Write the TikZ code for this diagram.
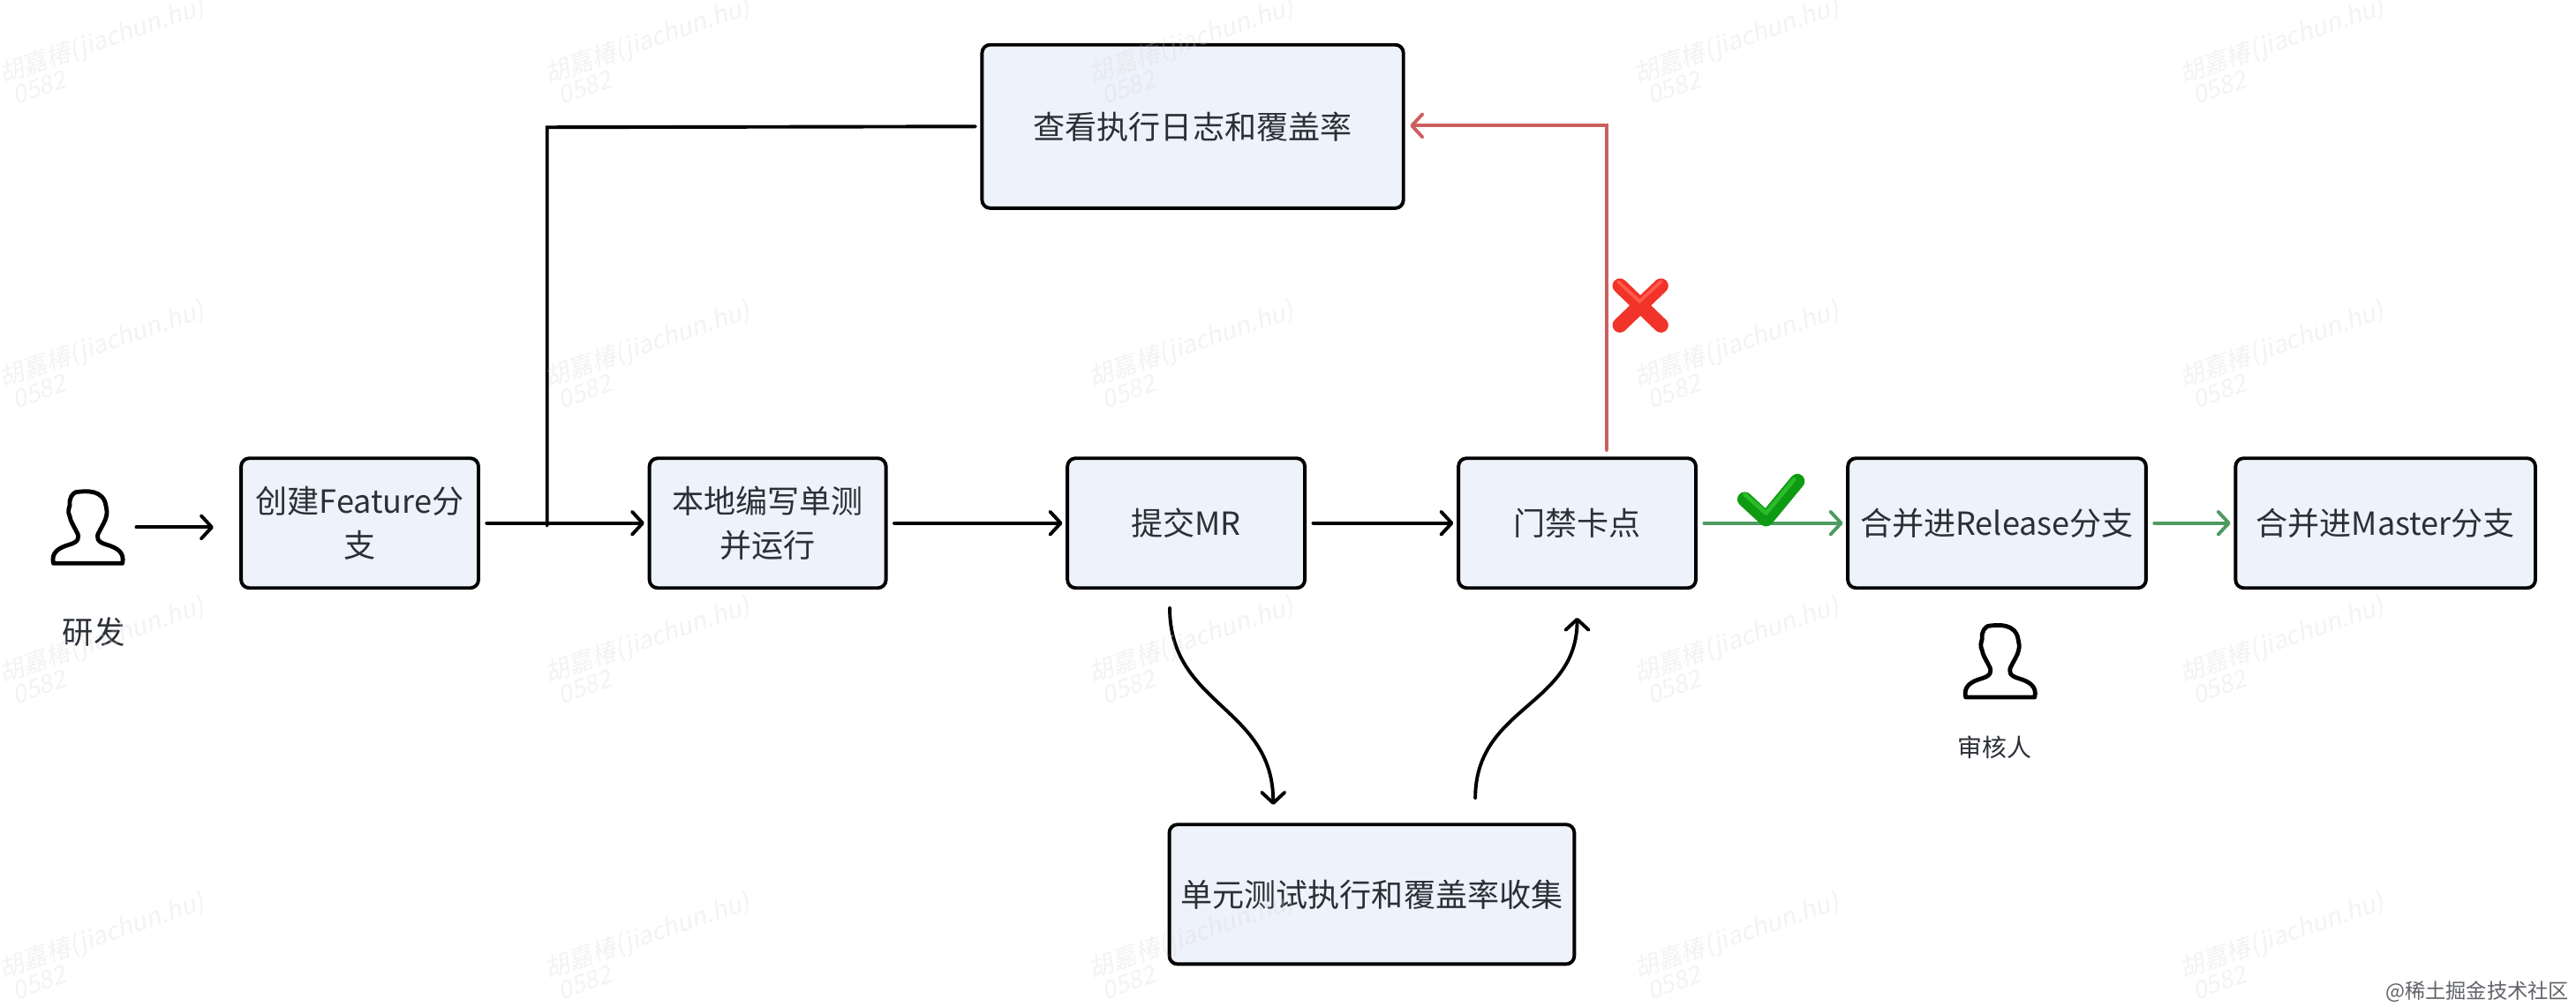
\documentclass[tikz,border=0pt]{standalone}
\usepackage{fontspec}
\setmainfont{Noto Sans CJK SC}
\usetikzlibrary{arrows.meta,shapes.misc}
\definecolor{boxfill}{HTML}{EEF2FA}
\definecolor{txt}{HTML}{2B2F36}
\definecolor{redline}{HTML}{CC5F60}
\definecolor{greenline}{HTML}{4F9A60}
\definecolor{xred}{HTML}{F2332A}
\definecolor{xredhi}{HTML}{FF5A4C}
\definecolor{chk}{HTML}{0E9A12}
\definecolor{chkhi}{HTML}{2CBB2A}
\definecolor{wm}{HTML}{D4D4D4}
\tikzset{
  x=1pt,y=-1pt,
  flowbox/.style={draw=black,fill=boxfill,line width=2.1pt,rounded corners=5pt,inner sep=0pt,
    text=txt,align=center,font=\fontsize{19.4}{27}\selectfont},
  conn/.style={line width=2.1pt,line cap=round,-{Straight Barb[length=6.5pt,width=14pt,round]}},
  plain/.style={line width=2.1pt,line cap=round},
  redconn/.style={conn,draw=redline},
  greenconn/.style={conn,draw=greenline},
  caption/.style={inner sep=0pt,text=txt},
  watermark/.style={inner sep=0pt,text=wm,opacity=.27,rotate=19,xslant=.2,transform shape,font=\fontsize{15}{15}\selectfont},
  person/.pic={
    \draw[line width=2.6pt,line join=round,fill=white]
      (-21,44.5) .. controls (-22.5,38) and (-18,35) .. (-11,33)
      .. controls (-6,31.5) and (-4.5,29) .. (-7,25)
      .. controls (-9,21) and (-10.5,19) .. (-11,16)
      .. controls (-12.5,13) and (-11.5,11) .. (-11,9)
      .. controls (-11.5,4) and (-9,2) .. (-7.5,1.2)
      .. controls (-1,.2) and (9.5,-.5) .. (11,9.5)
      .. controls (11.3,12) and (12,13) .. (11.2,16)
      .. controls (10.5,19) and (9,21) .. (7,25)
      .. controls (4.5,29) and (6,31.5) .. (11,33)
      .. controls (18,35) and (22.5,38) .. (21,44.5) -- cycle;
  },
}
\begin{document}
\begin{tikzpicture}
\useasboundingbox[fill=white] (0,0) rectangle (1568,612.6);

% boxes
\node[flowbox,minimum width=144.5pt,minimum height=79pt] (feature) at (219,318.5) {创建Feature分\\支};
\node[flowbox,minimum width=144pt,minimum height=79pt] (local) at (467.3,318.5) {本地编写单测\\并运行};
\node[flowbox,minimum width=144.5pt,minimum height=79pt] (mr) at (722,318.5) {提交MR};
\node[flowbox,minimum width=144.5pt,minimum height=79pt] (gate) at (960,318.5) {门禁卡点};
\node[flowbox,minimum width=181.5pt,minimum height=79pt] (release) at (1215.5,318.5) {合并进Release分支};
\node[flowbox,minimum width=182.5pt,minimum height=79pt] (master) at (1452,318.5) {合并进Master分支};
\node[flowbox,minimum width=256.5pt,minimum height=99.5pt] (log) at (726,77) {查看执行日志和覆盖率};
\node[flowbox,minimum width=246.5pt,minimum height=85pt] (unit) at (835,544.5) {单元测试执行和覆盖率收集};

% people
\pic at (53.5,298.5) {person};
\pic at (1217.5,380) {person};
\node[caption,font=\fontsize{19}{19}\selectfont] (dev) at (57,385) {研发};
\node[caption,font=\fontsize{15}{15}\selectfont] (rev) at (1214,455) {审核人};
\coordinate (devout) at (83,321);
\coordinate (devin) at (130,321);

% connectors
\draw[conn] (devout) -- (devin);
\draw[conn,shorten <=4pt,shorten >=2pt] (feature.east) -- (local.west);
\draw[conn,shorten <=4pt,shorten >=2pt] (local.east) -- (mr.west);
\draw[conn,shorten <=4pt,shorten >=2pt] (mr.east) -- (gate.west);
\draw[plain,shorten <=3pt] (log.west) -- (333,77.5) -- (333,320);
\coordinate (mrout) at (712,370);
\coordinate (unitin) at (775,490);
\coordinate (unitout) at (898,486);
\coordinate (gatein) at (960,376);
\draw[conn] (mrout) .. controls (712,430) and (775,430) .. (unitin);
\draw[conn] (unitout) .. controls (898,430) and (960,430) .. (gatein);
\coordinate (gateup) at (978,274);
\draw[redconn,shorten >=3pt] (gateup) -- (978,76.5) -- (log.east |- 978,76.5);
\draw[greenconn,shorten <=4pt,shorten >=2pt] (gate.east) -- (release.west);
\draw[greenconn,shorten <=4pt,shorten >=2pt] (release.east) -- (master.west);

% cross mark
\draw[xred,line width=9pt,line cap=round] (986,174) -- (1011,198);
\draw[xred,line width=9pt,line cap=round] (1011,174) -- (986,198);
\draw[xredhi,line width=2pt,line cap=round] (985,171.5) -- (998,183.5) -- (1011,171.5);

% check mark
\draw[chk,line width=9pt,line cap=round,line join=round] (1062,304) -- (1075,316) -- (1094,293);
\draw[chkhi,line width=2.5pt,line cap=round,line join=round] (1062,301) -- (1075,312.5) -- (1092,292);

% watermarks
\foreach \wx in {63,395,726,1058,1390}
  \foreach \wy in {25,210,390,570}{
    \node[watermark] at (\wx,\wy) {胡嘉椿(jiachun.hu)};
    \node[watermark] at (\wx-38,\wy+28) {0582};
  }

\node[inner sep=0pt,text=txt!75,font=\fontsize{12.5}{13}\selectfont,anchor=east] (brand) at (1564,604) {@稀土掘金技术社区};
\end{tikzpicture}
\end{document}
